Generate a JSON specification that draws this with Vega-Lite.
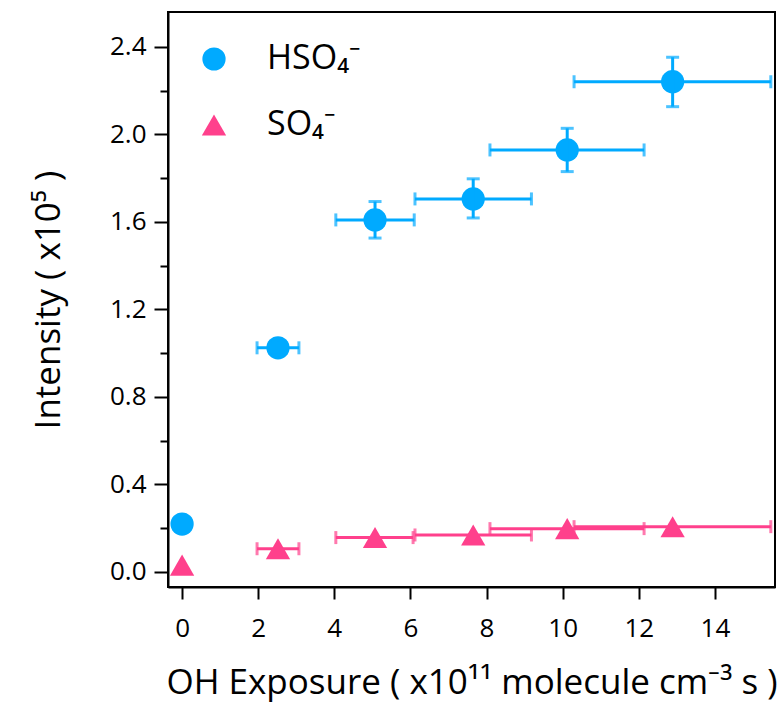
{
  "$schema": "https://vega.github.io/schema/vega-lite/v6.json",
  "autosize": {"type": "none"},
  "padding": {"left": 168, "top": 12, "right": 6, "bottom": 118},
  "width": 607,
  "height": 575,
  "background": "white",
  "config": {
    "view": {"stroke": "black", "strokeWidth": 2},
    "font": "Open Sans",
    "axis": {
      "labelFont": "Open Sans", "labelFontSize": 26, "labelColor": "black",
      "titleFont": "Open Sans", "titleFontSize": 35, "titleFontWeight": "normal", "titleColor": "black",
      "tickColor": "black", "tickWidth": 2, "domainColor": "black", "domainWidth": 2, "grid": false
    },
    "legend": {
      "labelFont": "Open Sans", "labelFontSize": 34, "labelColor": "black", "symbolOpacity": 1
    }
  },
  "data": {
    "values": [
      {"ion": "HSO₄⁻", "x": 0, "y": 0.218},
      {"ion": "HSO₄⁻", "x": 2.52, "y": 1.024, "xlo": 1.97, "xhi": 3.07, "ylo": 0.99, "yhi": 1.055},
      {"ion": "HSO₄⁻", "x": 5.07, "y": 1.609, "xlo": 4.04, "xhi": 6.1, "ylo": 1.526, "yhi": 1.693},
      {"ion": "HSO₄⁻", "x": 7.65, "y": 1.705, "xlo": 6.12, "xhi": 9.18, "ylo": 1.618, "yhi": 1.797},
      {"ion": "HSO₄⁻", "x": 10.12, "y": 1.929, "xlo": 8.09, "xhi": 12.14, "ylo": 1.83, "yhi": 2.028},
      {"ion": "HSO₄⁻", "x": 12.89, "y": 2.241, "xlo": 10.3, "xhi": 15.47, "ylo": 2.127, "yhi": 2.353},
      {"ion": "SO₄⁻", "x": 0, "y": 0.03},
      {"ion": "SO₄⁻", "x": 2.52, "y": 0.105, "xlo": 1.97, "xhi": 3.07},
      {"ion": "SO₄⁻", "x": 5.07, "y": 0.156, "xlo": 4.04, "xhi": 6.07},
      {"ion": "SO₄⁻", "x": 7.65, "y": 0.168, "xlo": 6.12, "xhi": 9.18},
      {"ion": "SO₄⁻", "x": 10.12, "y": 0.197, "xlo": 8.09, "xhi": 12.14},
      {"ion": "SO₄⁻", "x": 12.89, "y": 0.206, "xlo": 10.3, "xhi": 15.47}
    ]
  },
  "layer": [
    {
      "layer": [
        {
          "mark": {"type": "point", "filled": true, "opacity": 1, "strokeWidth": 0},
          "encoding": {
            "x": {"field": "x", "type": "quantitative", "title": "OH Exposure ( x10¹¹ molecule cm⁻³ s )",
                  "scale": {"domain": [-0.37, 15.58], "nice": false, "zero": false},
                  "axis": {"values": [0, 2, 4, 6, 8, 10, 12, 14], "tickSize": 12, "labelPadding": 16, "titlePadding": 24}},
            "y": {"field": "y", "type": "quantitative", "title": "Intensity ( x10⁵ )",
                  "scale": {"domain": [-0.07, 2.56], "nice": false, "zero": false},
                  "axis": {"values": [0, 0.4, 0.8, 1.2, 1.6, 2.0, 2.4], "format": ".1f", "tickSize": 14, "labelPadding": 8, "titlePadding": 43}},
            "opacity": {"value": 1},
            "color": {"field": "ion", "type": "nominal",
                      "scale": {"domain": ["HSO₄⁻", "SO₄⁻"], "range": ["#00AAFF", "#FF408C"]},
                      "legend": {"orient": "none", "legendX": 29, "legendY": 30, "title": null, "padding": 0,
                                 "rowPadding": 32, "labelOffset": 36, "symbolStrokeWidth": 0, "symbolOpacity": 1}},
            "shape": {"field": "ion", "type": "nominal",
                      "scale": {"domain": ["HSO₄⁻", "SO₄⁻"], "range": ["circle", "triangle-up"]}},
            "size": {"field": "ion", "type": "nominal",
                     "scale": {"domain": ["HSO₄⁻", "SO₄⁻"], "range": [540, 590]}}
          }
        },
        {
          "transform": [{"filter": "isValid(datum.xlo)"}],
          "mark": {"type": "errorbar", "thickness": 3, "ticks": {"size": 13, "thickness": 3}},
          "encoding": {
            "x": {"field": "xlo", "type": "quantitative", "title": "OH Exposure ( x10¹¹ molecule cm⁻³ s )"},
            "x2": {"field": "xhi"},
            "y": {"field": "y", "type": "quantitative", "title": "Intensity ( x10⁵ )"},
            "color": {"field": "ion", "type": "nominal"}
          }
        },
        {
          "transform": [{"filter": "isValid(datum.ylo)"}],
          "mark": {"type": "errorbar", "thickness": 3, "ticks": {"size": 13, "thickness": 3}},
          "encoding": {
            "x": {"field": "x", "type": "quantitative", "title": "OH Exposure ( x10¹¹ molecule cm⁻³ s )"},
            "y": {"field": "ylo", "type": "quantitative", "title": "Intensity ( x10⁵ )"},
            "y2": {"field": "yhi"},
            "color": {"field": "ion", "type": "nominal"}
          }
        }
      ]
    },
    {
      "mark": {"type": "point", "opacity": 0},
      "encoding": {
        "y": {"field": "y", "type": "quantitative", "title": null,
              "axis": {"orient": "left", "values": [0.2, 0.6, 1.0, 1.4, 1.8, 2.2], "tickSize": 8, "labels": false, "domain": false, "title": null}}
      }
    }
  ],
  "resolve": {"axis": {"y": "independent"}}
}
